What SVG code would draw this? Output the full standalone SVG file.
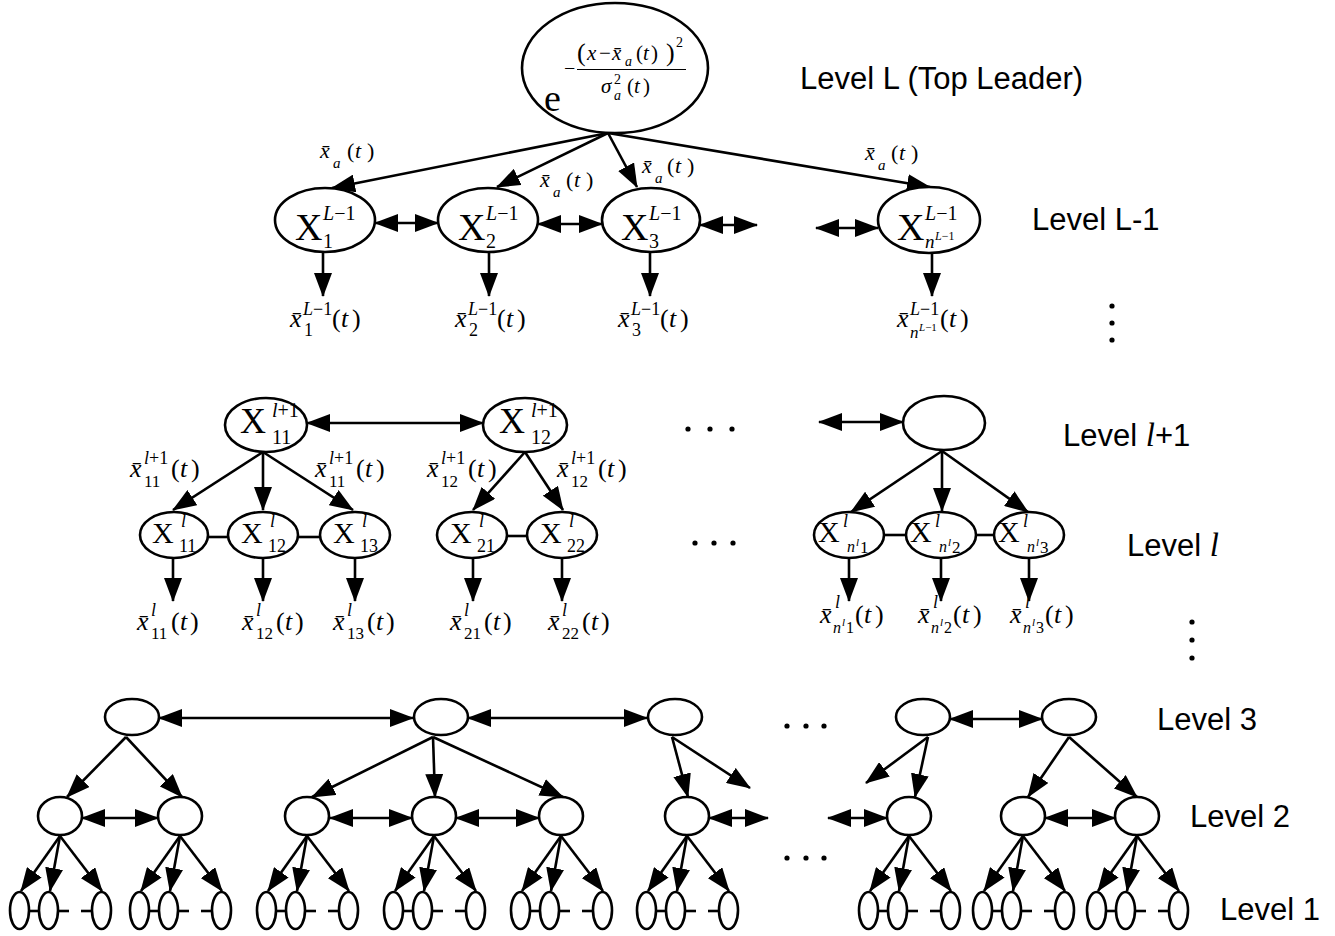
<svg xmlns="http://www.w3.org/2000/svg" width="1335" height="936" viewBox="0 0 1335 936">
<defs>
<marker id="ah" viewBox="0 0 24 18" markerWidth="24" markerHeight="18" markerUnits="userSpaceOnUse" refX="23" refY="9" orient="auto-start-reverse">
<path d="M0,0 L24,9 L0,18 z" fill="#000"/>
</marker>
<style>
.n{fill:#fff;stroke:#000;stroke-width:2.6}
.c line{stroke:#000;stroke-width:2.6;fill:none}
.a{marker-end:url(#ah)}
.d{marker-start:url(#ah);marker-end:url(#ah)}
.m{font-family:"Liberation Serif","Times New Roman",serif;fill:#000}
.i{font-style:italic}
.lv{font-family:"Liberation Sans",Arial,sans-serif;font-size:31px;fill:#000}
.dot{fill:#000}
</style>
</defs>
<rect width="1335" height="936" fill="#fff"/>

<g id="connectors" class="c">
<line class="a" x1="608" y1="133" x2="332" y2="188"/>
<line class="a" x1="608" y1="133" x2="497" y2="187"/>
<line class="a" x1="608" y1="133" x2="637" y2="187"/>
<line class="a" x1="608" y1="133" x2="930" y2="187"/>
<line class="d" x1="375" y1="223" x2="438" y2="223"/>
<line class="d" x1="538" y1="224" x2="602" y2="224"/>
<line class="d" x1="700" y1="225" x2="757" y2="225"/>
<line class="d" x1="816" y1="228" x2="878" y2="228"/>
<line class="a" x1="323" y1="252" x2="323" y2="296"/>
<line class="a" x1="489" y1="252" x2="489" y2="296"/>
<line class="a" x1="650" y1="252" x2="650" y2="296"/>
<line class="a" x1="932" y1="253" x2="932" y2="296"/>

<line class="d" x1="307" y1="423" x2="483" y2="423"/>
<line class="d" x1="819" y1="422" x2="903" y2="422"/>
<line class="a" x1="263" y1="452" x2="173" y2="510"/>
<line class="a" x1="263" y1="452" x2="263" y2="510"/>
<line class="a" x1="263" y1="452" x2="353" y2="510"/>
<line class="a" x1="525" y1="452" x2="473" y2="510"/>
<line class="a" x1="525" y1="452" x2="563" y2="510"/>
<line class="a" x1="942" y1="451" x2="851" y2="512"/>
<line class="a" x1="942" y1="451" x2="942" y2="511"/>
<line class="a" x1="942" y1="451" x2="1028" y2="512"/>
<line x1="208" y1="537" x2="228" y2="537"/>
<line x1="298" y1="537" x2="320" y2="537"/>
<line x1="507" y1="536" x2="527" y2="536"/>
<line x1="884" y1="535" x2="906" y2="535"/>
<line x1="976" y1="535" x2="994" y2="535"/>
<line class="a" x1="173" y1="558" x2="173" y2="601"/>
<line class="a" x1="263" y1="558" x2="263" y2="601"/>
<line class="a" x1="355" y1="558" x2="355" y2="601"/>
<line class="a" x1="473" y1="558" x2="473" y2="601"/>
<line class="a" x1="562" y1="558" x2="562" y2="601"/>
<line class="a" x1="849" y1="558" x2="849" y2="601"/>
<line class="a" x1="941" y1="558" x2="941" y2="601"/>
<line class="a" x1="1029" y1="558" x2="1029" y2="601"/>

<line class="d" x1="159" y1="718" x2="413" y2="718"/>
<line class="d" x1="468" y1="718" x2="647" y2="718"/>
<line class="d" x1="950" y1="719" x2="1042" y2="719"/>
<line class="a" x1="126" y1="737" x2="67" y2="797"/>
<line class="a" x1="126" y1="737" x2="182" y2="797"/>
<line class="a" x1="433" y1="737" x2="312" y2="797"/>
<line class="a" x1="433" y1="737" x2="435" y2="797"/>
<line class="a" x1="433" y1="737" x2="563" y2="797"/>
<line class="a" x1="672" y1="737" x2="688" y2="797"/>
<line class="a" x1="672" y1="737" x2="750" y2="788"/>
<line class="a" x1="928" y1="737" x2="915" y2="797"/>
<line class="a" x1="928" y1="737" x2="866" y2="783"/>
<line class="a" x1="1069" y1="737" x2="1028" y2="797"/>
<line class="a" x1="1069" y1="737" x2="1137" y2="797"/>
<line class="d" x1="82" y1="818" x2="158" y2="818"/>
<line class="d" x1="330" y1="818" x2="412" y2="818"/>
<line class="d" x1="456" y1="818" x2="539" y2="818"/>
<line class="d" x1="709" y1="818" x2="768" y2="818"/>
<line class="d" x1="828" y1="818" x2="887" y2="818"/>
<line class="d" x1="1045" y1="818" x2="1115" y2="818"/>

<line class="a" x1="60" y1="836" x2="21" y2="891"/><line class="a" x1="60" y1="836" x2="50" y2="891"/><line class="a" x1="60" y1="836" x2="102" y2="891"/>
<line class="a" x1="180" y1="836" x2="141" y2="891"/><line class="a" x1="180" y1="836" x2="170" y2="891"/><line class="a" x1="180" y1="836" x2="222" y2="891"/>
<line class="a" x1="307" y1="836" x2="268" y2="891"/><line class="a" x1="307" y1="836" x2="297" y2="891"/><line class="a" x1="307" y1="836" x2="349" y2="891"/>
<line class="a" x1="434" y1="836" x2="395" y2="891"/><line class="a" x1="434" y1="836" x2="424" y2="891"/><line class="a" x1="434" y1="836" x2="476" y2="891"/>
<line class="a" x1="561" y1="836" x2="522" y2="891"/><line class="a" x1="561" y1="836" x2="551" y2="891"/><line class="a" x1="561" y1="836" x2="603" y2="891"/>
<line class="a" x1="687" y1="836" x2="648" y2="891"/><line class="a" x1="687" y1="836" x2="677" y2="891"/><line class="a" x1="687" y1="836" x2="729" y2="891"/>
<line class="a" x1="909" y1="836" x2="870" y2="891"/><line class="a" x1="909" y1="836" x2="899" y2="891"/><line class="a" x1="909" y1="836" x2="951" y2="891"/>
<line class="a" x1="1023" y1="836" x2="984" y2="891"/><line class="a" x1="1023" y1="836" x2="1013" y2="891"/><line class="a" x1="1023" y1="836" x2="1065" y2="891"/>
<line class="a" x1="1137" y1="836" x2="1098" y2="891"/><line class="a" x1="1137" y1="836" x2="1127" y2="891"/><line class="a" x1="1137" y1="836" x2="1179" y2="891"/>

<line x1="29" y1="911" x2="39" y2="911"/><line x1="58" y1="911" x2="69" y2="911"/><line x1="81" y1="911" x2="92" y2="911"/>
<line x1="149" y1="911" x2="159" y2="911"/><line x1="178" y1="911" x2="189" y2="911"/><line x1="201" y1="911" x2="212" y2="911"/>
<line x1="276" y1="911" x2="286" y2="911"/><line x1="305" y1="911" x2="316" y2="911"/><line x1="328" y1="911" x2="339" y2="911"/>
<line x1="403" y1="911" x2="413" y2="911"/><line x1="432" y1="911" x2="443" y2="911"/><line x1="455" y1="911" x2="466" y2="911"/>
<line x1="530" y1="911" x2="540" y2="911"/><line x1="559" y1="911" x2="570" y2="911"/><line x1="582" y1="911" x2="593" y2="911"/>
<line x1="656" y1="911" x2="666" y2="911"/><line x1="685" y1="911" x2="696" y2="911"/><line x1="708" y1="911" x2="719" y2="911"/>
<line x1="878" y1="911" x2="888" y2="911"/><line x1="907" y1="911" x2="918" y2="911"/><line x1="930" y1="911" x2="941" y2="911"/>
<line x1="992" y1="911" x2="1002" y2="911"/><line x1="1021" y1="911" x2="1032" y2="911"/><line x1="1044" y1="911" x2="1055" y2="911"/>
<line x1="1106" y1="911" x2="1116" y2="911"/><line x1="1135" y1="911" x2="1146" y2="911"/><line x1="1158" y1="911" x2="1169" y2="911"/>
</g>

<g id="edge-labels" class="m">
<text font-size="22"><tspan x="320" y="158" class="i">x&#x304;</tspan><tspan x="333" y="168" class="i" font-size="15">a</tspan><tspan x="347" y="158">(</tspan><tspan x="355" y="158" class="i">t</tspan><tspan x="367" y="158">)</tspan></text>
<text font-size="22"><tspan x="540" y="187" class="i">x&#x304;</tspan><tspan x="553" y="197" class="i" font-size="15">a</tspan><tspan x="566" y="187">(</tspan><tspan x="574" y="187" class="i">t</tspan><tspan x="586" y="187">)</tspan></text>
<text font-size="22"><tspan x="642" y="173" class="i">x&#x304;</tspan><tspan x="655" y="183" class="i" font-size="15">a</tspan><tspan x="667" y="173">(</tspan><tspan x="675" y="173" class="i">t</tspan><tspan x="687" y="173">)</tspan></text>
<text font-size="22"><tspan x="865" y="160" class="i">x&#x304;</tspan><tspan x="878" y="170" class="i" font-size="15">a</tspan><tspan x="891" y="160">(</tspan><tspan x="899" y="160" class="i">t</tspan><tspan x="911" y="160">)</tspan></text>

<text font-size="26"><tspan x="290" y="327" class="i">x&#x304;</tspan><tspan x="303" y="315" font-size="18"><tspan class="i">L</tspan>−1</tspan><tspan x="304" y="336" font-size="18">1</tspan><tspan x="332" y="327">(</tspan><tspan x="341" y="327" class="i">t</tspan><tspan x="352" y="327">)</tspan></text>
<text font-size="26"><tspan x="455" y="327" class="i">x&#x304;</tspan><tspan x="468" y="315" font-size="18"><tspan class="i">L</tspan>−1</tspan><tspan x="469" y="336" font-size="18">2</tspan><tspan x="497" y="327">(</tspan><tspan x="506" y="327" class="i">t</tspan><tspan x="517" y="327">)</tspan></text>
<text font-size="26"><tspan x="618" y="327" class="i">x&#x304;</tspan><tspan x="631" y="315" font-size="18"><tspan class="i">L</tspan>−1</tspan><tspan x="632" y="336" font-size="18">3</tspan><tspan x="660" y="327">(</tspan><tspan x="669" y="327" class="i">t</tspan><tspan x="680" y="327">)</tspan></text>
<text font-size="26"><tspan x="897" y="327" class="i">x&#x304;</tspan><tspan x="910" y="315" font-size="18"><tspan class="i">L</tspan>−1</tspan><tspan x="910" y="338" font-size="17" class="i">n</tspan><tspan x="919" y="331" font-size="11"><tspan class="i">L</tspan>−1</tspan><tspan x="940" y="327">(</tspan><tspan x="949" y="327" class="i">t</tspan><tspan x="960" y="327">)</tspan></text>

<text font-size="26"><tspan x="130" y="477" class="i">x&#x304;</tspan><tspan x="144" y="464" font-size="18"><tspan class="i">l</tspan>+1</tspan><tspan x="144" y="487" font-size="17">11</tspan><tspan x="171" y="477">(</tspan><tspan x="180" y="477" class="i">t</tspan><tspan x="191" y="477">)</tspan></text>
<text font-size="26"><tspan x="315" y="477" class="i">x&#x304;</tspan><tspan x="329" y="464" font-size="18"><tspan class="i">l</tspan>+1</tspan><tspan x="329" y="487" font-size="17">11</tspan><tspan x="356" y="477">(</tspan><tspan x="365" y="477" class="i">t</tspan><tspan x="376" y="477">)</tspan></text>
<text font-size="26"><tspan x="427" y="477" class="i">x&#x304;</tspan><tspan x="441" y="464" font-size="18"><tspan class="i">l</tspan>+1</tspan><tspan x="441" y="487" font-size="17">12</tspan><tspan x="468" y="477">(</tspan><tspan x="477" y="477" class="i">t</tspan><tspan x="488" y="477">)</tspan></text>
<text font-size="26"><tspan x="557" y="477" class="i">x&#x304;</tspan><tspan x="571" y="464" font-size="18"><tspan class="i">l</tspan>+1</tspan><tspan x="571" y="487" font-size="17">12</tspan><tspan x="598" y="477">(</tspan><tspan x="607" y="477" class="i">t</tspan><tspan x="618" y="477">)</tspan></text>

<text font-size="26"><tspan x="137" y="630" class="i">x&#x304;</tspan><tspan x="151" y="616" font-size="18" class="i">l</tspan><tspan x="151" y="639" font-size="17">11</tspan><tspan x="171" y="630">(</tspan><tspan x="180" y="630" class="i">t</tspan><tspan x="190" y="630">)</tspan></text>
<text font-size="26"><tspan x="242" y="630" class="i">x&#x304;</tspan><tspan x="256" y="616" font-size="18" class="i">l</tspan><tspan x="256" y="639" font-size="17">12</tspan><tspan x="276" y="630">(</tspan><tspan x="285" y="630" class="i">t</tspan><tspan x="295" y="630">)</tspan></text>
<text font-size="26"><tspan x="333" y="630" class="i">x&#x304;</tspan><tspan x="347" y="616" font-size="18" class="i">l</tspan><tspan x="347" y="639" font-size="17">13</tspan><tspan x="367" y="630">(</tspan><tspan x="376" y="630" class="i">t</tspan><tspan x="386" y="630">)</tspan></text>
<text font-size="26"><tspan x="450" y="630" class="i">x&#x304;</tspan><tspan x="464" y="616" font-size="18" class="i">l</tspan><tspan x="464" y="639" font-size="17">21</tspan><tspan x="484" y="630">(</tspan><tspan x="493" y="630" class="i">t</tspan><tspan x="503" y="630">)</tspan></text>
<text font-size="26"><tspan x="548" y="630" class="i">x&#x304;</tspan><tspan x="562" y="616" font-size="18" class="i">l</tspan><tspan x="562" y="639" font-size="17">22</tspan><tspan x="582" y="630">(</tspan><tspan x="591" y="630" class="i">t</tspan><tspan x="601" y="630">)</tspan></text>

<text font-size="26"><tspan x="820" y="623" class="i">x&#x304;</tspan><tspan x="835" y="608" font-size="18" class="i">l</tspan><tspan x="833" y="633" font-size="16" class="i">n</tspan><tspan x="842" y="626" font-size="11" class="i">l</tspan><tspan x="846" y="633" font-size="16">1</tspan><tspan x="855" y="623">(</tspan><tspan x="864" y="623" class="i">t</tspan><tspan x="875" y="623">)</tspan></text>
<text font-size="26"><tspan x="918" y="623" class="i">x&#x304;</tspan><tspan x="933" y="608" font-size="18" class="i">l</tspan><tspan x="931" y="633" font-size="16" class="i">n</tspan><tspan x="940" y="626" font-size="11" class="i">l</tspan><tspan x="944" y="633" font-size="16">2</tspan><tspan x="953" y="623">(</tspan><tspan x="962" y="623" class="i">t</tspan><tspan x="973" y="623">)</tspan></text>
<text font-size="26"><tspan x="1010" y="623" class="i">x&#x304;</tspan><tspan x="1025" y="608" font-size="18" class="i">l</tspan><tspan x="1023" y="633" font-size="16" class="i">n</tspan><tspan x="1032" y="626" font-size="11" class="i">l</tspan><tspan x="1036" y="633" font-size="16">3</tspan><tspan x="1045" y="623">(</tspan><tspan x="1054" y="623" class="i">t</tspan><tspan x="1065" y="623">)</tspan></text>
</g>

<g id="leader">
<ellipse class="n" cx="615" cy="68" rx="93" ry="65"/>
<text class="m" x="544" y="111" font-size="38">e</text>
<text class="m" x="564" y="75" font-size="20">−</text>
<line x1="577" y1="69.5" x2="686" y2="69.5" stroke="#000" stroke-width="1.2"/>
<text class="m" font-size="21"><tspan x="577" y="61" font-size="26">(</tspan><tspan x="587" y="60" class="i">x</tspan><tspan x="599" y="60">−</tspan><tspan x="612" y="60" class="i">x&#x304;</tspan><tspan x="625" y="66" class="i" font-size="14">a</tspan><tspan x="636" y="60">(</tspan><tspan x="643" y="60" class="i">t</tspan><tspan x="651" y="60">)</tspan><tspan x="666" y="61" font-size="26">)</tspan><tspan x="676" y="47" font-size="14">2</tspan></text>
<text class="m" font-size="21"><tspan x="601" y="93" class="i">σ</tspan><tspan x="614" y="84" font-size="14">2</tspan><tspan x="614" y="100" class="i" font-size="14">a</tspan><tspan x="627" y="93">(</tspan><tspan x="634" y="93" class="i">t</tspan><tspan x="643" y="93">)</tspan></text>
</g>

<g id="X1-L1">
<ellipse class="n" cx="325" cy="220" rx="50" ry="32"/>
<text class="m" font-size="38"><tspan x="295" y="240">X</tspan><tspan x="323" y="220" font-size="20"><tspan class="i">L</tspan>−1</tspan><tspan x="323" y="248" font-size="20">1</tspan></text>
</g>
<g id="X2-L1">
<ellipse class="n" cx="488" cy="220" rx="50" ry="32"/>
<text class="m" font-size="38"><tspan x="458" y="240">X</tspan><tspan x="486" y="220" font-size="20"><tspan class="i">L</tspan>−1</tspan><tspan x="486" y="248" font-size="20">2</tspan></text>
</g>
<g id="X3-L1">
<ellipse class="n" cx="651" cy="220" rx="49" ry="32"/>
<text class="m" font-size="38"><tspan x="621" y="240">X</tspan><tspan x="649" y="220" font-size="20"><tspan class="i">L</tspan>−1</tspan><tspan x="649" y="248" font-size="20">3</tspan></text>
</g>
<g id="Xn-L1">
<ellipse class="n" cx="929" cy="220" rx="51" ry="33"/>
<text class="m" font-size="38"><tspan x="897" y="240">X</tspan><tspan x="925" y="220" font-size="20"><tspan class="i">L</tspan>−1</tspan><tspan x="925" y="248" font-size="19" class="i">n</tspan><tspan x="935" y="240" font-size="12"><tspan class="i">L</tspan>−1</tspan></text>
</g>

<g id="X11-lp1">
<ellipse class="n" cx="266" cy="425" rx="41" ry="27"/>
<text class="m" font-size="36"><tspan x="240" y="433">X</tspan><tspan x="272" y="417" font-size="20"><tspan class="i">l</tspan>+1</tspan><tspan x="272" y="444" font-size="20">11</tspan></text>
</g>
<g id="X12-lp1">
<ellipse class="n" cx="525" cy="425" rx="42" ry="27"/>
<text class="m" font-size="36"><tspan x="499" y="433">X</tspan><tspan x="531" y="417" font-size="20"><tspan class="i">l</tspan>+1</tspan><tspan x="531" y="444" font-size="20">12</tspan></text>
</g>
<g id="Xn-lp1">
<ellipse class="n" cx="944" cy="423" rx="41" ry="27"/>
</g>

<g id="X11-l"><ellipse class="n" cx="174" cy="535" rx="34" ry="23"/><text class="m" font-size="30"><tspan x="152" y="543">X</tspan><tspan x="181" y="527" font-size="18" class="i">l</tspan><tspan x="179" y="552" font-size="18">11</tspan></text></g>
<g id="X12-l"><ellipse class="n" cx="263" cy="535" rx="35" ry="23"/><text class="m" font-size="30"><tspan x="241" y="543">X</tspan><tspan x="270" y="527" font-size="18" class="i">l</tspan><tspan x="268" y="552" font-size="18">12</tspan></text></g>
<g id="X13-l"><ellipse class="n" cx="355" cy="535" rx="35" ry="23"/><text class="m" font-size="30"><tspan x="333" y="543">X</tspan><tspan x="362" y="527" font-size="18" class="i">l</tspan><tspan x="360" y="552" font-size="18">13</tspan></text></g>
<g id="X21-l"><ellipse class="n" cx="472" cy="535" rx="35" ry="23"/><text class="m" font-size="30"><tspan x="450" y="543">X</tspan><tspan x="479" y="527" font-size="18" class="i">l</tspan><tspan x="477" y="552" font-size="18">21</tspan></text></g>
<g id="X22-l"><ellipse class="n" cx="562" cy="535" rx="35" ry="23"/><text class="m" font-size="30"><tspan x="540" y="543">X</tspan><tspan x="569" y="527" font-size="18" class="i">l</tspan><tspan x="567" y="552" font-size="18">22</tspan></text></g>
<g id="Xn1-l"><ellipse class="n" cx="849" cy="535" rx="35" ry="23"/><text class="m" font-size="30"><tspan x="818" y="542">X</tspan><tspan x="843" y="527" font-size="18" class="i">l</tspan><tspan x="847" y="552" font-size="16" class="i">n</tspan><tspan x="856" y="546" font-size="11" class="i">l</tspan><tspan x="860" y="553" font-size="17">1</tspan></text></g>
<g id="Xn2-l"><ellipse class="n" cx="941" cy="535" rx="35" ry="23"/><text class="m" font-size="30"><tspan x="910" y="542">X</tspan><tspan x="935" y="527" font-size="18" class="i">l</tspan><tspan x="939" y="552" font-size="16" class="i">n</tspan><tspan x="948" y="546" font-size="11" class="i">l</tspan><tspan x="952" y="553" font-size="17">2</tspan></text></g>
<g id="Xn3-l"><ellipse class="n" cx="1029" cy="535" rx="35" ry="23"/><text class="m" font-size="30"><tspan x="998" y="542">X</tspan><tspan x="1023" y="527" font-size="18" class="i">l</tspan><tspan x="1027" y="552" font-size="16" class="i">n</tspan><tspan x="1036" y="546" font-size="11" class="i">l</tspan><tspan x="1040" y="553" font-size="17">3</tspan></text></g>

<g id="L3-1"><ellipse class="n" cx="132" cy="717" rx="27" ry="18"/></g>
<g id="L3-2"><ellipse class="n" cx="441" cy="717" rx="27" ry="18"/></g>
<g id="L3-3"><ellipse class="n" cx="675" cy="717" rx="27" ry="18"/></g>
<g id="L3-4"><ellipse class="n" cx="923" cy="717" rx="27" ry="18"/></g>
<g id="L3-5"><ellipse class="n" cx="1069" cy="717" rx="27" ry="18"/></g>

<g id="L2-1"><ellipse class="n" cx="60" cy="816" rx="22" ry="19"/></g>
<g id="L2-2"><ellipse class="n" cx="180" cy="816" rx="22" ry="19"/></g>
<g id="L2-3"><ellipse class="n" cx="307" cy="816" rx="22" ry="19"/></g>
<g id="L2-4"><ellipse class="n" cx="434" cy="816" rx="22" ry="19"/></g>
<g id="L2-5"><ellipse class="n" cx="561" cy="816" rx="22" ry="19"/></g>
<g id="L2-6"><ellipse class="n" cx="687" cy="816" rx="22" ry="19"/></g>
<g id="L2-7"><ellipse class="n" cx="909" cy="816" rx="22" ry="19"/></g>
<g id="L2-8"><ellipse class="n" cx="1023" cy="816" rx="22" ry="19"/></g>
<g id="L2-9"><ellipse class="n" cx="1137" cy="816" rx="22" ry="19"/></g>

<g id="L1-1"><ellipse class="n" cx="19.5" cy="910.5" rx="9.5" ry="18.5"/></g>
<g id="L1-2"><ellipse class="n" cx="48.5" cy="910.5" rx="9.5" ry="18.5"/></g>
<g id="L1-3"><ellipse class="n" cx="101.5" cy="910.5" rx="9.5" ry="18.5"/></g>
<g id="L1-4"><ellipse class="n" cx="139.5" cy="910.5" rx="9.5" ry="18.5"/></g>
<g id="L1-5"><ellipse class="n" cx="168.5" cy="910.5" rx="9.5" ry="18.5"/></g>
<g id="L1-6"><ellipse class="n" cx="221.5" cy="910.5" rx="9.5" ry="18.5"/></g>
<g id="L1-7"><ellipse class="n" cx="266.5" cy="910.5" rx="9.5" ry="18.5"/></g>
<g id="L1-8"><ellipse class="n" cx="295.5" cy="910.5" rx="9.5" ry="18.5"/></g>
<g id="L1-9"><ellipse class="n" cx="348.5" cy="910.5" rx="9.5" ry="18.5"/></g>
<g id="L1-10"><ellipse class="n" cx="393.5" cy="910.5" rx="9.5" ry="18.5"/></g>
<g id="L1-11"><ellipse class="n" cx="422.5" cy="910.5" rx="9.5" ry="18.5"/></g>
<g id="L1-12"><ellipse class="n" cx="475.5" cy="910.5" rx="9.5" ry="18.5"/></g>
<g id="L1-13"><ellipse class="n" cx="520.5" cy="910.5" rx="9.5" ry="18.5"/></g>
<g id="L1-14"><ellipse class="n" cx="549.5" cy="910.5" rx="9.5" ry="18.5"/></g>
<g id="L1-15"><ellipse class="n" cx="602.5" cy="910.5" rx="9.5" ry="18.5"/></g>
<g id="L1-16"><ellipse class="n" cx="646.5" cy="910.5" rx="9.5" ry="18.5"/></g>
<g id="L1-17"><ellipse class="n" cx="675.5" cy="910.5" rx="9.5" ry="18.5"/></g>
<g id="L1-18"><ellipse class="n" cx="728.5" cy="910.5" rx="9.5" ry="18.5"/></g>
<g id="L1-19"><ellipse class="n" cx="868.5" cy="910.5" rx="9.5" ry="18.5"/></g>
<g id="L1-20"><ellipse class="n" cx="897.5" cy="910.5" rx="9.5" ry="18.5"/></g>
<g id="L1-21"><ellipse class="n" cx="950.5" cy="910.5" rx="9.5" ry="18.5"/></g>
<g id="L1-22"><ellipse class="n" cx="982.5" cy="910.5" rx="9.5" ry="18.5"/></g>
<g id="L1-23"><ellipse class="n" cx="1011.5" cy="910.5" rx="9.5" ry="18.5"/></g>
<g id="L1-24"><ellipse class="n" cx="1064.5" cy="910.5" rx="9.5" ry="18.5"/></g>
<g id="L1-25"><ellipse class="n" cx="1096.5" cy="910.5" rx="9.5" ry="18.5"/></g>
<g id="L1-26"><ellipse class="n" cx="1125.5" cy="910.5" rx="9.5" ry="18.5"/></g>
<g id="L1-27"><ellipse class="n" cx="1178.5" cy="910.5" rx="9.5" ry="18.5"/></g>

<g id="ellipses-dots" class="dot">
<circle cx="688" cy="429" r="2.6"/><circle cx="710" cy="429" r="2.6"/><circle cx="732" cy="429" r="2.6"/>
<circle cx="695" cy="543" r="2.6"/><circle cx="714" cy="543" r="2.6"/><circle cx="733" cy="543" r="2.6"/>
<circle cx="787" cy="726" r="2.6"/><circle cx="806" cy="726" r="2.6"/><circle cx="824" cy="726" r="2.6"/>
<circle cx="787" cy="858" r="2.6"/><circle cx="806" cy="858" r="2.6"/><circle cx="824" cy="858" r="2.6"/>
<circle cx="1112" cy="306" r="2.6"/><circle cx="1112" cy="323" r="2.6"/><circle cx="1112" cy="340" r="2.6"/>
<circle cx="1192" cy="622" r="2.6"/><circle cx="1192" cy="640" r="2.6"/><circle cx="1192" cy="658" r="2.6"/>
</g>

<g id="level-labels">
<text class="lv" x="800" y="89">Level L (Top Leader)</text>
<text class="lv" x="1032" y="230">Level L-1</text>
<text class="lv" x="1063" y="446">Level <tspan class="m i" font-size="33">l</tspan>+1</text>
<text class="lv" x="1127" y="556">Level <tspan class="m i" font-size="33">l</tspan></text>
<text class="lv" x="1157" y="730">Level 3</text>
<text class="lv" x="1190" y="827">Level 2</text>
<text class="lv" x="1220" y="920">Level 1</text>
</g>
</svg>
